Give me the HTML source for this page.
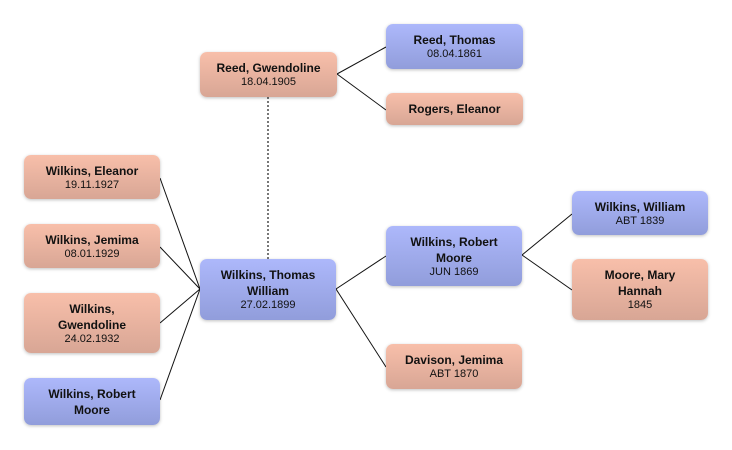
<!DOCTYPE html>
<html><head><style>
body{margin:0;width:732px;height:450px;background:#fff;position:relative;overflow:hidden;font-family:"Liberation Sans","DejaVu Sans",sans-serif;}
.n{position:absolute;box-sizing:border-box;border-radius:7px;display:flex;flex-direction:column;justify-content:center;align-items:center;text-align:center;box-shadow:0 1px 3px rgba(0,0,0,0.25);color:#111;}
.f{background:linear-gradient(#f8bfaa,#d8a695);}
.m{background:linear-gradient(#adb8fb,#919ddb);}
.n b{font-size:12px;line-height:16px;display:block;}
.n span{font-size:11px;line-height:13px;display:block;}
svg{position:absolute;left:0;top:0;}
</style></head><body>
<svg width="732" height="450">
<g stroke="#111" stroke-width="1" fill="none">
<line x1="337" y1="74" x2="386" y2="47"/>
<line x1="337" y1="74" x2="386" y2="110"/>
<line x1="160" y1="178" x2="200" y2="289"/>
<line x1="160" y1="247" x2="200" y2="289"/>
<line x1="160" y1="323" x2="200" y2="289"/>
<line x1="160" y1="400" x2="200" y2="289"/>
<line x1="336" y1="289" x2="386" y2="256"/>
<line x1="336" y1="289" x2="386" y2="367"/>
<line x1="522" y1="255" x2="572" y2="214"/>
<line x1="522" y1="255" x2="572" y2="290"/>
</g>
<line x1="268" y1="97" x2="268" y2="259" stroke="#777" stroke-width="2" stroke-dasharray="2,2"/>
</svg>
<div class="n f" style="left:200px;top:52px;width:137px;height:45px"><b>Reed, Gwendoline</b><span>18.04.1905</span></div>
<div class="n m" style="left:386px;top:24px;width:137px;height:45px"><b>Reed, Thomas</b><span>08.04.1861</span></div>
<div class="n f" style="left:386px;top:93px;width:137px;height:32px"><b>Rogers, Eleanor</b></div>
<div class="n f" style="left:24px;top:155px;width:136px;height:44px"><b>Wilkins, Eleanor</b><span>19.11.1927</span></div>
<div class="n f" style="left:24px;top:224px;width:136px;height:44px"><b>Wilkins, Jemima</b><span>08.01.1929</span></div>
<div class="n f" style="left:24px;top:293px;width:136px;height:60px"><b>Wilkins,<br>Gwendoline</b><span>24.02.1932</span></div>
<div class="n m" style="left:24px;top:378px;width:136px;height:47px"><b>Wilkins, Robert<br>Moore</b></div>
<div class="n m" style="left:200px;top:259px;width:136px;height:61px"><b>Wilkins, Thomas<br>William</b><span>27.02.1899</span></div>
<div class="n m" style="left:386px;top:226px;width:136px;height:60px"><b>Wilkins, Robert<br>Moore</b><span>JUN 1869</span></div>
<div class="n f" style="left:386px;top:344px;width:136px;height:45px"><b>Davison, Jemima</b><span>ABT 1870</span></div>
<div class="n m" style="left:572px;top:191px;width:136px;height:44px"><b>Wilkins, William</b><span>ABT 1839</span></div>
<div class="n f" style="left:572px;top:259px;width:136px;height:61px"><b>Moore, Mary<br>Hannah</b><span>1845</span></div>
</body></html>
